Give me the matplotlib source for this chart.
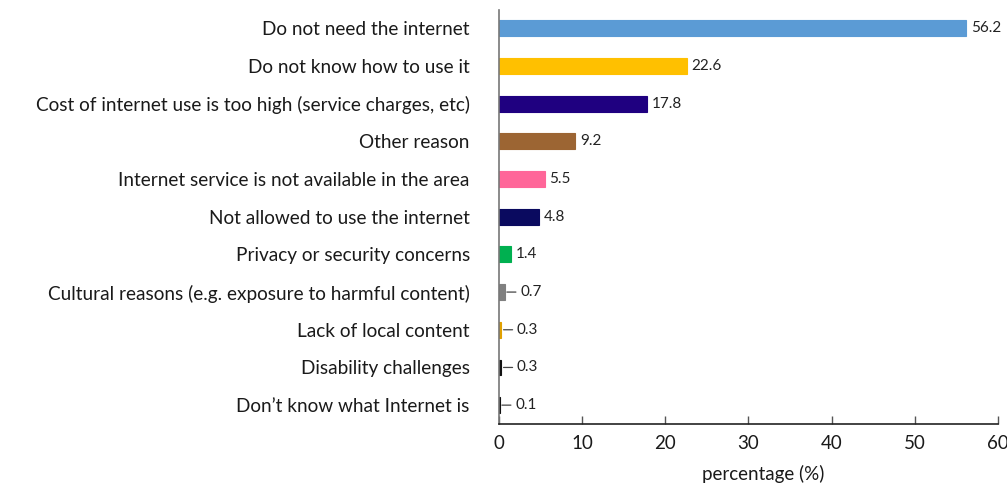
import matplotlib
matplotlib.use("Agg")
import matplotlib.pyplot as plt

plt.rcParams['font.family'] = ['Lato', 'DejaVu Sans']

categories = [
    "Do not need the internet",
    "Do not know how to use it",
    "Cost of internet use is too high (service charges, etc)",
    "Other reason",
    "Internet service is not available in the area",
    "Not allowed to use the internet",
    "Privacy or security concerns",
    "Cultural reasons (e.g. exposure to harmful content)",
    "Lack of local content",
    "Disability challenges",
    "Don\u2019t know what Internet is",
]
values = [56.2, 22.6, 17.8, 9.2, 5.5, 4.8, 1.4, 0.7, 0.3, 0.3, 0.1]
colors = ["#5B9BD5", "#FFC000", "#1F0080", "#9C6533", "#FF6699", "#0A0A5F",
          "#00B050", "#808080", "#E0A000", "#111111", "#111111"]
xticks = [0, 10, 20, 30, 40, 50, 60]

fig = plt.figure(figsize=(10.07, 4.84), dpi=100)
ax = fig.add_axes([0.4955, 0.124, 0.4955, 0.855])

ypos = list(range(len(categories)))
ax.barh(ypos, values, height=0.42, color=colors, edgecolor=colors, linewidth=0.8)

# value labels; tiny bars get a short leader line to their label
for y, v in zip(ypos, values):
    if v < 1:
        ax.annotate(f"{v}", xy=(v, y), xytext=(11, 0), textcoords="offset points",
                    va="center", ha="left", fontsize=11, color="#222222",
                    arrowprops=dict(arrowstyle="-", color="#444444", lw=0.9,
                                    shrinkA=1, shrinkB=1.5))
    else:
        ax.annotate(f"{v}", xy=(v, y), xytext=(3.5, 0), textcoords="offset points",
                    va="center", ha="left", fontsize=11, color="#222222")

ax.set_ylim(10.5, -0.48)
ax.set_xlim(0, 60)
ax.set_xticks(xticks)
ax.set_yticks(ypos)
ax.set_yticklabels(categories, fontsize=13.7, color="#1a1a1a")
ax.tick_params(axis="y", length=0, pad=21)
ax.tick_params(axis="x", direction="in", length=6, width=1, color="#555555",
               labelsize=13.5, pad=8, labelcolor="#1a1a1a")
ax.spines["top"].set_visible(False)
ax.spines["right"].set_visible(False)
ax.spines["left"].set_color("#777777")
ax.spines["left"].set_linewidth(1.2)
ax.spines["bottom"].set_color("#222222")
ax.spines["bottom"].set_linewidth(1.2)
ax.set_xlabel("percentage (%)", fontsize=13.5, color="#1a1a1a")
ax.xaxis.set_label_coords(0.53, -0.1)

fig.savefig("out.png", dpi=100)
